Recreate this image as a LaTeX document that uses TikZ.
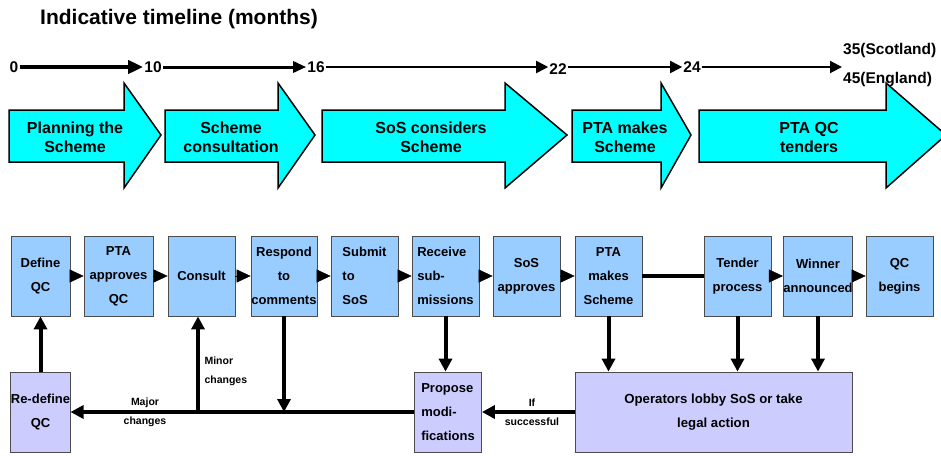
\documentclass[tikz,border=0pt]{standalone}
\usepackage{fontspec}
\setmainfont{Liberation Sans}
\usetikzlibrary{arrows.meta}
\definecolor{phasecyan}{HTML}{00FFFF}
\definecolor{stepblue}{HTML}{99CCFF}
\definecolor{loopviolet}{HTML}{CCCCFF}
\tikzset{
  phase/.style={draw=black, line width=1.5pt, fill=phasecyan},
  phaselbl/.style={font=\fontsize{16}{19}\selectfont\bfseries, align=center},
  stepbox/.style={draw=black!70, line width=0.8pt, fill=stepblue, minimum width=67pt,
    minimum height=80pt, inner sep=0pt, align=center, font=\fontsize{13}{24}\selectfont\bfseries},
  loopbox/.style={stepbox, fill=loopviolet},
  nextarrow/.style={line width=0.5pt, -{Triangle[length=14pt,width=13pt]}},
  link/.style={line width=4pt, -{Triangle[length=13pt,width=13pt]}},
  monthlbl/.style={font=\fontsize{15.5}{29}\selectfont\bfseries, inner sep=1pt},
  note/.style={font=\fontsize{10.5}{19}\selectfont\bfseries, align=center},
}
\begin{document}
\begin{tikzpicture}[x=1pt,y=-1pt]
    \useasboundingbox (0,0) rectangle (941,455);

    % timeline
    \node[anchor=west, inner sep=0pt, font=\fontsize{21}{24}\selectfont\bfseries] (title) at (40,19) {Indicative timeline (months)};
    \node[monthlbl] (t0) at (14,67) {0};
    \node[monthlbl] (t10) at (153,67) {10};
    \node[monthlbl] (t16) at (316,67) {16};
    \node[monthlbl] (t22) at (558,69) {22};
    \node[monthlbl] (t24) at (692,67) {24};
    \node[monthlbl, anchor=west, align=left] (tend) at (842,65.5) {35(Scotland)\\45(England)};
    \draw[line width=4pt, -{Triangle[length=15pt,width=13pt]}] (t0) -- (t10);
    \draw[line width=3pt, -{Triangle[length=13pt,width=11pt]}] (t10) -- (t16);
    \draw[line width=2pt, -{Triangle[length=12pt,width=12pt]}] (t16) -- (t16 -| t22.west);
    \draw[line width=2pt, -{Triangle[length=12pt,width=12pt]}] (t22.east |- t24) -- (t24);
    \draw[line width=2pt, -{Triangle[length=12pt,width=12pt]}] (t24) -- (t24 -| tend.west);

    % phases
    \foreach \xa/\xb/\xc/\xl/\lbl [count=\i] in {9/124/161/75/{Planning the\\Scheme},
        165/278/315/231/{Scheme\\consultation}, 322/505/567/431/{SoS considers\\Scheme},
        572/661/691/625/{PTA makes\\Scheme}, 699/886/946/809/{PTA QC\\tenders}} {
        \draw[phase] (\xa,110) -- (\xb,110) -- (\xb,83) -- (\xc,135) -- (\xb,188) -- (\xb,162) -- (\xa,162) -- cycle;
        \node[phaselbl] (ph\i) at (\xl,137.5) {\lbl};
    }

    % steps
    \node[stepbox, minimum width=59pt] (b1) at (40.5,276) {Define\\QC};
    \node[stepbox, minimum width=69pt] (b2) at (118.5,276) {PTA\\approves\\QC};
    \node[stepbox] (b3) at (201.5,276) {Consult};
    \node[stepbox, minimum width=66pt] (b4) at (284,276) {Respond\\to\\comments};
    \node[stepbox, align=left] (b5) at (364.5,276) {Submit\\to\\SoS};
    \node[stepbox, align=left] (b6) at (445.5,276) {Receive\\sub-\\missions};
    \node[stepbox] (b7) at (526.5,276) {SoS\\approves};
    \node[stepbox] (b8) at (608.5,276) {PTA\\makes\\Scheme};
    \node[stepbox] (b9) at (737.5,276) {Tender\\process};
    \node[stepbox] (b10) at (818,276) {Winner\\announced};
    \node[stepbox] (b11) at (899.5,276) {QC\\begins};

    \node[loopbox, minimum width=59pt] (redef) at (40.5,412) {Re-define\\QC};
    \node[loopbox, align=left] (propose) at (448,412) {Propose\\modi-\\fications};
    \node[loopbox, minimum width=277pt, font=\fontsize{13.2}{24}\selectfont\bfseries] (lobby) at (713.5,412) {Operators lobby SoS or take\\legal action};

    \foreach \a/\b in {b1/b2, b2/b3, b3/b4, b4/b5, b5/b6, b6/b7, b7/b8, b9/b10, b10/b11}
        \draw[nextarrow] (\a.east) -- (\b.west);
    \draw[line width=4pt] (b8.east) -- (b9.west);

    % feedback
    \coordinate (minor) at (198,412);
    \draw[link] (redef.north) -- (b1.south);
    \draw[link] (propose.west) -- (redef.east);
    \draw[link] (minor) -- (minor |- b3.south);
    \draw[link] (b4.south) -- (b4.south |- propose.west);
    \draw[link] (b6.south) -- (b6.south |- propose.north);
    \draw[link] (b8.south) -- (b8.south |- lobby.north);
    \draw[link] (b9.south) -- (b9.south |- lobby.north);
    \draw[link] (b10.south) -- (b10.south |- lobby.north);
    \draw[link] (lobby.west) -- (propose.east);

    \node[note, align=left, anchor=west] (minorlbl) at (201,371) {Minor\\changes};
    \node[note] (majorlbl) at (145,412.5) {Major\\changes};
    \node[note] (iflbl) at (532,412.5) {If\\successful};
\end{tikzpicture}
\end{document}
